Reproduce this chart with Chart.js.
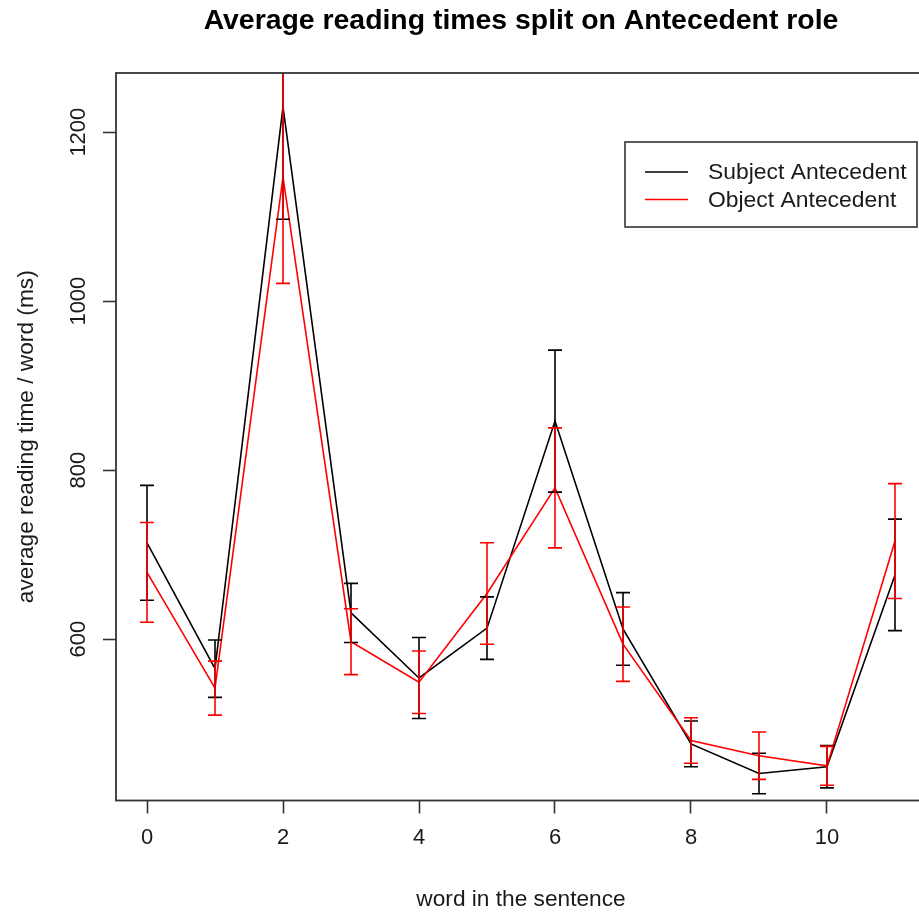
<!DOCTYPE html>
<html>
<head>
<meta charset="utf-8">
<title>Average reading times split on Antecedent role</title>
<script src="https://cdn.jsdelivr.net/npm/chart.js@4"></script>
<style>
  html, body { margin: 0; padding: 0; background: #fff; overflow: hidden; }
</style>
</head>
<body>
<canvas id="chart" width="940" height="915"></canvas>
<script>
// data
const words = [0, 1, 2, 3, 4, 5, 6, 7, 8, 9, 10, 11];
const subjectMean = [714, 565, 1230, 631, 554, 613, 858, 612, 476, 441, 449, 676];
const subjectErr = [68, 34, 133, 35, 48, 37, 84, 43, 27, 24, 25, 66];
const objectMean = [679, 542, 1147, 597, 549, 654, 779, 594, 480, 462, 450, 716];
const objectErr = [59, 32, 126, 39, 37, 60, 71, 44, 27, 28, 23, 68];

const xTicks = [0, 2, 4, 6, 8, 10];
const yTicks = [600, 800, 1000, 1200];
const seriesNames = ['Subject Antecedent', 'Object Antecedent'];
const seriesColors = ['#000000', '#ff0000'];
const chartTitle = 'Average reading times split on Antecedent role';
const xTitle = 'word in the sentence';
const yTitle = 'average reading time / word (ms)';

const FONT = '"Liberation Sans", Arial, sans-serif';
const TEXT = '#1a1a1a';
const AXIS = '#333333';

// error bars with caps, clipped to the plot region like R does
const errorBars = {
  id: 'errorBars',
  afterDatasetsDraw(chart) {
    const { ctx, chartArea, scales: { x, y } } = chart;
    ctx.save();
    ctx.beginPath();
    ctx.rect(chartArea.left, chartArea.top, chartArea.right - chartArea.left, chartArea.bottom - chartArea.top);
    ctx.clip();
    ctx.lineWidth = 1.6;
    chart.data.datasets.forEach(ds => {
      ctx.strokeStyle = ds.borderColor;
      ds.data.forEach((p, i) => {
        const px = x.getPixelForValue(p.x);
        const top = y.getPixelForValue(p.y + ds.err[i]);
        const bot = y.getPixelForValue(p.y - ds.err[i]);
        ctx.beginPath();
        ctx.moveTo(px, top); ctx.lineTo(px, bot);
        ctx.moveTo(px - 7, top); ctx.lineTo(px + 7, top);
        ctx.moveTo(px - 7, bot); ctx.lineTo(px + 7, bot);
        ctx.stroke();
      });
    });
    ctx.restore();
  }
};

// box, title and the boxed legend
const frame = {
  id: 'frame',
  afterDraw(chart) {
    const { ctx, chartArea: a } = chart;
    ctx.save();
    ctx.strokeStyle = AXIS;
    ctx.lineWidth = 1.8;
    ctx.strokeRect(a.left, a.top, a.right - a.left, a.bottom - a.top);

    ctx.fillStyle = '#000';
    ctx.font = 'bold 28.4px ' + FONT;
    ctx.textAlign = 'center';
    ctx.textBaseline = 'alphabetic';
    ctx.fillText(chartTitle, (a.left + a.right) / 2, 29);

    // legend
    const lx = 625, ly = 142, lw = 292, lh = 85;
    ctx.fillStyle = '#fff';
    ctx.fillRect(lx, ly, lw, lh);
    ctx.strokeStyle = AXIS;
    ctx.lineWidth = 1.6;
    ctx.strokeRect(lx, ly, lw, lh);
    ctx.font = '22.9px ' + FONT;
    ctx.textAlign = 'left';
    ctx.textBaseline = 'middle';
    seriesNames.forEach((name, i) => {
      const yy = 172 + i * 27.5;
      ctx.strokeStyle = seriesColors[i];
      ctx.lineWidth = 1.6;
      ctx.beginPath();
      ctx.moveTo(645, yy); ctx.lineTo(688, yy);
      ctx.stroke();
      ctx.fillStyle = TEXT;
      ctx.fillText(name, 708, yy + 1);
    });
    ctx.restore();
  }
};

const tickFont = { family: FONT, size: 22 };
const labelFont = { family: FONT, size: 22.7 };

new Chart(document.getElementById('chart'), {
  type: 'line',
  data: {
    datasets: [
      {
        label: seriesNames[0],
        data: words.map((w, i) => ({ x: w, y: subjectMean[i] })),
        err: subjectErr,
        borderColor: seriesColors[0],
        borderWidth: 1.6,
        pointRadius: 0,
        tension: 0,
        fill: false,
        order: 1
      },
      {
        label: seriesNames[1],
        data: words.map((w, i) => ({ x: w, y: objectMean[i] })),
        err: objectErr,
        borderColor: seriesColors[1],
        borderWidth: 1.6,
        pointRadius: 0,
        tension: 0,
        fill: false,
        order: 0
      }
    ]
  },
  options: {
    responsive: false,
    animation: false,
    layout: { padding: { top: 73, right: 14, left: 0, bottom: 0 } },
    plugins: {
      legend: { display: false },
      title: { display: false },
      tooltip: { enabled: false }
    },
    scales: {
      x: {
        type: 'linear',
        min: -0.456,
        max: 11.456,
        afterBuildTicks: s => { s.ticks = xTicks.map(v => ({ value: v })); },
        afterFit: s => { s.height = 114.5; },
        border: { display: false },
        grid: { drawOnChartArea: false, tickLength: 13, tickColor: AXIS, tickWidth: 1.6 },
        ticks: { color: TEXT, font: tickFont, padding: 11, maxRotation: 0, autoSkip: false, callback: v => String(v) },
        title: { display: true, text: xTitle, color: TEXT, font: labelFont, padding: { top: 0, bottom: 2 } }
      },
      y: {
        type: 'linear',
        min: 409,
        max: 1270,
        afterBuildTicks: s => { s.ticks = yTicks.map(v => ({ value: v })); },
        afterFit: s => { s.width = 116; },
        border: { display: false },
        grid: { drawOnChartArea: false, tickLength: 13, tickColor: AXIS, tickWidth: 1.6 },
        ticks: { color: TEXT, font: tickFont, padding: 0, minRotation: 90, maxRotation: 90, crossAlign: 'center', autoSkip: false, callback: v => String(v) },
        title: { display: true, text: yTitle, color: TEXT, font: labelFont, padding: { top: 13, bottom: 0 } }
      }
    }
  },
  plugins: [errorBars, frame]
});
</script>
</body>
</html>
